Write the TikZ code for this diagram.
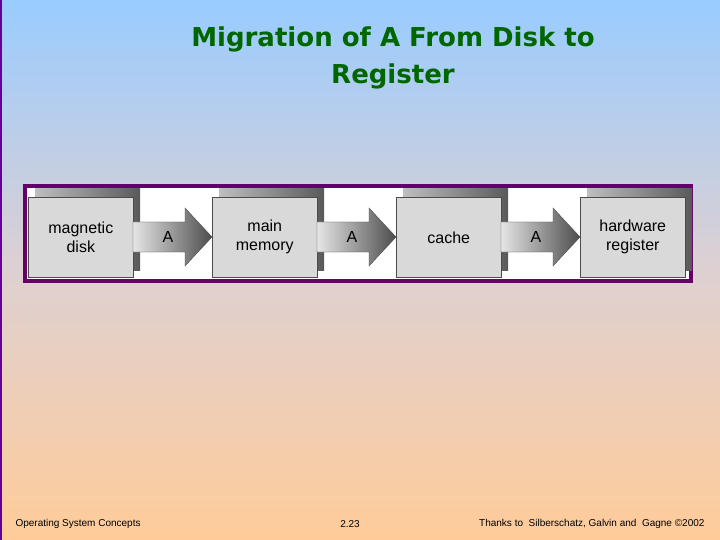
\documentclass[tikz,border=0pt]{standalone}
\usepackage{fontspec}
\setmainfont{Liberation Sans}
\newfontfamily\titlefont{DejaVu Sans}
\definecolor{bgtop}{RGB}{153,204,255}
\definecolor{bgmid}{RGB}{222,208,210}
\definecolor{bgbot}{RGB}{255,204,153}
\definecolor{edgep}{RGB}{102,0,153}
\definecolor{framep}{RGB}{102,0,102}
\definecolor{titleg}{RGB}{0,102,0}
\begin{document}
\begin{tikzpicture}[x=1pt,y=-1pt,
  box/.style={draw=black!70,line width=0.6pt,fill=black!15,minimum width=105pt,minimum height=80pt,font=\fontsize{16}{19}\selectfont,align=center,inner sep=0pt},
  lbl/.style={font=\fontsize{16}{19}\selectfont}]
\useasboundingbox (0,0) rectangle (720,540);
\shade[top color=bgtop,bottom color=bgbot,middle color=bgmid] (0,0) rectangle (720,540);
\draw[edgep,line width=1.5pt] (0.75,0) -- (0.75,540);
\node[text=titleg,font=\titlefont\bfseries\fontsize{26}{37}\selectfont,align=center] (title) at (393,58) {Migration of A From Disk to\\Register};
\draw[fill=white,draw=framep,line width=4pt] (25,186) rectangle (691,281);
\foreach \x/\n/\t in {28/b1/{magnetic\\disk},212/b2/{main\\memory},396/b3/{cache},580/b4/{hardware\\register}}{
  \shade[left color=black!25,right color=black!65] (\x+7,189) rectangle (\x+112,270);
  \node[box,anchor=north west] (\n) at (\x,197) {\t};
}
\foreach \x in {133,317,501}{
  \shade[left color=black!10,right color=black!70,draw=black!70]
    (\x,222) -- (\x+52,222) -- (\x+52,208) -- (\x+79,237) -- (\x+52,266) -- (\x+52,252) -- (\x,252) -- cycle;
  \node[lbl] at (\x+35,237) {A};
}
\node[font=\fontsize{10}{12}\selectfont,anchor=west] (f1) at (12,524) {Operating System Concepts};
\node[font=\fontsize{10}{12}\selectfont] (f2) at (350,524) {2.23};
\node[font=\fontsize{10}{12}\selectfont,anchor=east] (f3) at (708,524) {Thanks to\ \ Silberschatz, Galvin and\ \ Gagne \copyright 2002};
\end{tikzpicture}
\end{document}
